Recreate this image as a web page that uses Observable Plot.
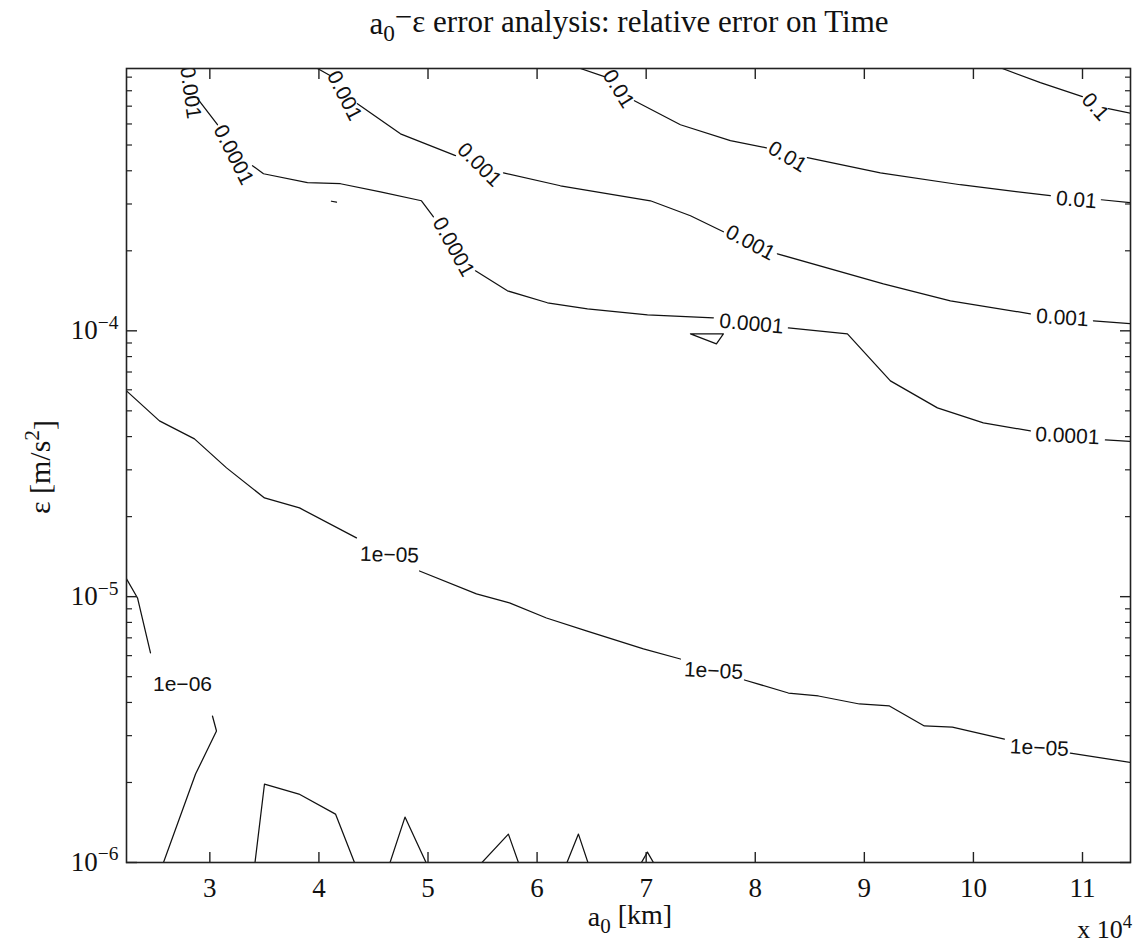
<!DOCTYPE html>
<html>
<head>
<meta charset="utf-8">
<script src="https://cdn.jsdelivr.net/npm/d3@7"></script>
<script src="https://cdn.jsdelivr.net/npm/@observablehq/plot@0.6"></script>
<style>
  html, body { margin: 0; padding: 0; background: #fff; }
</style>
</head>
<body>
<div id="chart"></div>
<script>
// ---------- axes ----------
const xDomain = [22360, 114400];          // a0 [km]
const yDomain = [1e-6, 9.7e-4];           // epsilon [m/s^2]
const xTicks = [30000, 40000, 50000, 60000, 70000, 80000, 90000, 100000, 110000];
const yMajor = [1e-6, 1e-5, 1e-4];
const yMinor = [2e-6, 3e-6, 4e-6, 5e-6, 6e-6, 7e-6, 8e-6, 9e-6,
                2e-5, 3e-5, 4e-5, 5e-5, 6e-5, 7e-5, 8e-5, 9e-5,
                2e-4, 3e-4, 4e-4, 5e-4, 6e-4, 7e-4, 8e-4, 9e-4];

// ---------- contour lines (level -> list of polyline pieces [a0, eps]) ----------
const level_0_1 = [
  [[102650, 9.7e-4], [106140, 8.58e-4], [109990, 7.60e-4]],
  [[112370, 6.85e-4], [114400, 6.59e-4]]
];
const level_0_01 = [
  [[63970, 9.7e-4], [66170, 9.04e-4]],
  [[68920, 7.34e-4], [73140, 5.96e-4], [77720, 5.19e-4], [81020, 4.88e-4]],
  [[84780, 4.48e-4], [91470, 3.93e-4], [98800, 3.544e-4], [107050, 3.222e-4]],
  [[111730, 3.112e-4], [114400, 3.033e-4]]
];
const level_0_001 = [
  [[39870, 9.7e-4], [41060, 9.11e-4]],
  [[43530, 7.15e-4], [47475, 5.51e-4], [52520, 4.56e-4]],
  [[56920, 3.93e-4], [62140, 3.513e-4], [70390, 3.085e-4], [74060, 2.709e-4], [77080, 2.358e-4]],
  [[82030, 1.949e-4], [91750, 1.503e-4], [97890, 1.297e-4], [105220, 1.159e-4]],
  [[111000, 1.091e-4], [114400, 1.065e-4]]
];
const level_0_0001 = [
  [[28870, 7.47e-4], [30700, 5.96e-4]],
  [[33910, 4.178e-4], [34920, 3.898e-4], [38950, 3.61e-4], [41975, 3.575e-4], [45640, 3.335e-4], [49400, 3.085e-4], [50500, 2.685e-4]],
  [[54350, 1.682e-4], [57280, 1.414e-4], [60950, 1.275e-4], [64620, 1.210e-4], [70120, 1.149e-4], [76160, 1.119e-4]],
  [[83040, 1.026e-4], [88450, 9.743e-5], [92390, 6.484e-5], [96700, 5.131e-5], [100910, 4.506e-5], [105220, 4.203e-5]],
  [[112100, 3.888e-5], [114400, 3.838e-5]],
  [[74060, 9.743e-5], [77080, 9.743e-5], [76440, 8.934e-5], [74060, 9.743e-5]],
  [[41150, 3.072e-4], [41610, 3.046e-4]]
];
const level_1e_05 = [
  [[22360, 5.946e-5], [25380, 4.585e-5], [28590, 3.922e-5], [31530, 3.051e-5], [35010, 2.352e-5], [38220, 2.157e-5], [43440, 1.664e-5]],
  [[49220, 1.249e-5], [54440, 1.024e-5], [57470, 9.47e-6], [60860, 8.314e-6], [64520, 7.43e-6], [69750, 6.357e-6], [73140, 5.828e-6]],
  [[79010, 4.859e-6], [83040, 4.341e-6], [85790, 4.23e-6], [89550, 3.947e-6], [92300, 3.879e-6], [95500, 3.262e-6], [98070, 3.233e-6], [102840, 2.913e-6]],
  [[108890, 2.58e-6], [114400, 2.377e-6]]
];
const level_1e_06 = [
  [[22360, 1.166e-5], [23370, 9.888e-6], [24560, 6.14e-6]],
  [[30240, 3.556e-6], [30610, 3.123e-6], [28690, 2.151e-6], [25750, 1e-6]],
  [[34140, 1e-6], [35010, 1.973e-6], [38170, 1.809e-6], [41520, 1.521e-6], [43260, 1e-6]],
  [[46520, 1e-6], [47890, 1.482e-6], [49820, 1e-6]],
  [[54945, 1e-6], [57370, 1.279e-6], [58290, 1e-6]],
  [[62740, 1e-6], [63790, 1.279e-6], [64660, 1e-6]],
  [[69565, 1e-6], [70115, 1.094e-6], [70665, 1e-6]]
];

// ---------- inline labels: [text, a0 start, eps start, a0 end, eps end] ----------
const labels_0_1 = [["0.1", 110564, 7.43e-4, 111793, 6.534e-4]];
const labels_0_01 = [
  ["0.01", 66971, 8.767e-4, 67943, 7.565e-4],
  ["0.01", 82159, 4.722e-4, 83736, 4.319e-4],
  ["0.01", 108520, 3.136e-4, 110354, 3.088e-4]
];
const labels_0_001 = [
  ["0.001", 28098, 8.57e-4, 28355, 7.22e-4],
  ["0.001", 41929, 8.279e-4, 42754, 7.096e-4],
  ["0.001", 54065, 4.482e-4, 55367, 3.963e-4],
  ["0.001", 78749, 2.233e-4, 80362, 2.058e-4],
  ["0.001", 107237, 1.126e-4, 109070, 1.113e-4]
];
const labels_0_0001 = [
  ["0.0001", 31755, 4.964e-4, 32580, 4.256e-4],
  ["0.0001", 51893, 2.233e-4, 52773, 1.919e-4],
  ["0.0001", 78731, 1.071e-4, 80564, 1.054e-4],
  ["0.0001", 107695, 4.043e-5, 109529, 4.008e-5]
];
const labels_1e_05 = [
  ["1e\u221205", 45550, 1.439e-5, 47383, 1.432e-5],
  ["1e\u221205", 75248, 5.275e-6, 77081, 5.23e-6],
  ["1e\u221205", 105129, 2.707e-6, 106962, 2.684e-6]
];
const labels_1e_06 = [["1e\u221206", 26576, 4.693e-6, 28410, 4.693e-6]];

// ---------- layout ----------
const width = 1134, height = 945;
const mL = 126, mR = 4, mT = 68, mB = 83;

const levels = [
  ["0.1", level_0_1], ["0.01", level_0_01], ["0.001", level_0_001],
  ["0.0001", level_0_0001], ["1e-05", level_1e_05], ["1e-06", level_1e_06]
];
const lineRows = levels.flatMap(([lvl, pieces]) =>
  pieces.flatMap((piece, i) => piece.map(([x, y]) => ({x, y, id: lvl + "#" + i}))));

const sx = Plot.scale({x: {domain: xDomain, range: [mL, width - mR]}});
const sy = Plot.scale({y: {type: "log", domain: yDomain, range: [height - mB, mT]}});
const labelRows = [labels_0_1, labels_0_01, labels_0_001, labels_0_0001, labels_1e_05, labels_1e_06]
  .flat()
  .map(([text, x1, y1, x2, y2]) => ({
    text,
    x: (x1 + x2) / 2,
    y: Math.sqrt(y1 * y2),
    angle: Math.atan2(sy.apply(y2) - sy.apply(y1), sx.apply(x2) - sx.apply(x1)) * 180 / Math.PI
  }));

const axisColor = "#222";
const serif = "'Liberation Serif', 'Times New Roman', serif";
const plot = Plot.plot({
  width, height,
  marginLeft: mL, marginRight: mR, marginTop: mT, marginBottom: mB,
  style: {fontFamily: serif, fontSize: "27px", background: "#fff", color: "#111"},
  x: {domain: xDomain},
  y: {type: "log", domain: yDomain},
  marks: [
    Plot.line(lineRows, {x: "x", y: "y", z: "id", stroke: "#111", strokeWidth: 1.25, clip: true}),
    Plot.text(labelRows, {x: "x", y: "y", text: "text", rotate: "angle", textAnchor: "middle", lineAnchor: "middle",
      fontFamily: "'Liberation Sans', Arial, sans-serif", fontSize: 21, fill: "#111", clip: true}),
    Plot.frame({stroke: axisColor, strokeWidth: 1.6}),
    // inward ticks
    Plot.axisX({anchor: "bottom", ticks: xTicks, tickSize: 10, dy: -10, tickFormat: () => "", label: null, stroke: axisColor, strokeWidth: 1.4}),
    Plot.axisX({anchor: "top", ticks: xTicks, tickSize: 10, dy: 10, tickFormat: () => "", label: null, stroke: axisColor, strokeWidth: 1.4}),
    Plot.axisY({anchor: "left", ticks: yMajor, tickSize: 11, dx: 11, tickFormat: () => "", label: null, stroke: axisColor, strokeWidth: 1.4}),
    Plot.axisY({anchor: "right", ticks: yMajor, tickSize: 11, dx: -11, tickFormat: () => "", label: null, stroke: axisColor, strokeWidth: 1.4}),
    Plot.axisY({anchor: "left", ticks: yMinor, tickSize: 6, dx: 6, tickFormat: () => "", label: null, stroke: axisColor, strokeWidth: 1.2}),
    Plot.axisY({anchor: "right", ticks: yMinor, tickSize: 6, dx: -6, tickFormat: () => "", label: null, stroke: axisColor, strokeWidth: 1.2}),
    // tick labels
    Plot.axisX({anchor: "bottom", ticks: xTicks, tickSize: 0, tickPadding: 15, tickFormat: d => String(d / 1e4), label: null, fill: "#111"}),
    Plot.axisY({anchor: "left", ticks: yMajor, tickSize: 0, tickPadding: 8, tickFormat: d => String(Math.round(Math.log10(d))), label: null, fill: "#111"})
  ]
});

// drop the empty labels of the tick-only axes
plot.querySelectorAll("text").forEach(t => { if (t.textContent.trim() === "") t.remove(); });

// superscript exponents on the log axis labels
plot.querySelectorAll('g[aria-label="y-axis tick label"] text').forEach(t => {
  const e = t.textContent.replace("-", "\u2212").replace("\u2212\u2212", "\u2212");
  t.textContent = "10";
  const ts = document.createElementNS("http://www.w3.org/2000/svg", "tspan");
  ts.setAttribute("dy", "-0.55em");
  ts.setAttribute("font-size", "0.72em");
  ts.textContent = e;
  t.appendChild(ts);
});

const svg = d3.select(plot);

// title
const title = svg.append("text").attr("x", 629).attr("y", 34).attr("text-anchor", "middle")
  .attr("font-family", serif).attr("font-size", 31).attr("fill", "#111");
title.append("tspan").text("a");
title.append("tspan").attr("dy", "0.3em").attr("font-size", "0.75em").text("0");
title.append("tspan").attr("dy", "-0.45em").text("\u2212");
title.append("tspan").attr("dy", "0.15em").text("\u03b5 error analysis: relative error on Time");

// x label
const xl = svg.append("text").attr("x", 630).attr("y", 926).attr("text-anchor", "middle")
  .attr("font-family", serif).attr("font-size", 28).attr("fill", "#111");
xl.append("tspan").text("a");
xl.append("tspan").attr("dy", "0.35em").attr("font-size", "0.75em").text("0");
xl.append("tspan").attr("dy", "-0.35em").text(" [km]");

// x multiplier
const xm = svg.append("text").attr("x", 1132).attr("y", 938).attr("text-anchor", "end")
  .attr("font-family", serif).attr("font-size", 26).attr("fill", "#111");
xm.append("tspan").text("x 10");
xm.append("tspan").attr("dy", "-0.55em").attr("font-size", "0.72em").text("4");

// y label
const yl = svg.append("text").attr("transform", "translate(50,467) rotate(-90)").attr("text-anchor", "middle")
  .attr("font-family", serif).attr("font-size", 30).attr("fill", "#111");
yl.append("tspan").text("\u03b5 [m/s");
yl.append("tspan").attr("dy", "-0.5em").attr("font-size", "0.72em").text("2");
yl.append("tspan").attr("dy", "0.5em").text("]");

document.getElementById("chart").appendChild(plot);
</script>
</body>
</html>
